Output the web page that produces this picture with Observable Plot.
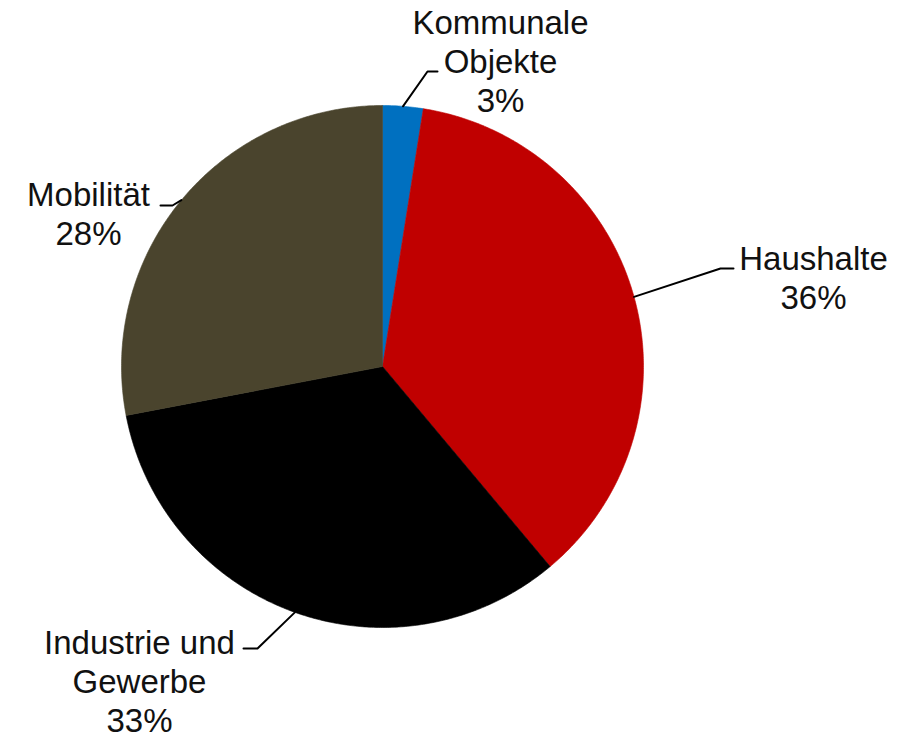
<!DOCTYPE html>
<html>
<head>
<meta charset="utf-8">
<script src="https://cdn.jsdelivr.net/npm/d3@7"></script>
<script src="https://cdn.jsdelivr.net/npm/@observablehq/plot@0.6"></script>
<style>
  html, body { margin: 0; padding: 0; background: #fff; }
  #chart svg { display: block; }
</style>
</head>
<body>
<div id="chart"></div>
<script>
// ---- data ----
const categories = ["Kommunale Objekte", "Haushalte", "Industrie und Gewerbe", "Mobilität"];
const labelNames = ["Kommunale\nObjekte", "Haushalte", "Industrie und\nGewerbe", "Mobilität"];
const shares = [2.5, 36.4, 33.1, 28.0];
const percentLabels = ["3%", "36%", "33%", "28%"];
const colors = ["#0070C0", "#C00000", "#000000", "#4A442D"];

// ---- layout (pixels) ----
const W = 907, H = 738, CX = 382, CY = 366, R = 261;
const FONT = 33, LINE_H = 39;
// leader elbow, leader end and text anchor (last baseline) per label
const labelLayout = [
  {elbow: [427, 71], end: [437, 71], text: [500, 111]},
  {elbow: [720, 268], end: [733, 268], text: [813, 308]},
  {elbow: [257, 648], end: [243, 648], text: [139, 731]},
  {elbow: [172, 205], end: [160, 205], text: [88, 244]}
];
const toU = ([px, py]) => [(px - CX) / R, (CY - py) / R];

// ---- pie geometry from data ----
const total = d3.sum(shares);
let acc = 0;
const slices = categories.map((name, i) => {
  const a0 = acc / total * 2 * Math.PI;
  acc += shares[i];
  const a1 = acc / total * 2 * Math.PI;
  return {name, i, a0, a1, mid: (a0 + a1) / 2};
});

const polyPts = [];
for (const s of slices) {
  polyPts.push({name: s.name, x: 0, y: 0});
  const steps = Math.max(2, Math.ceil((s.a1 - s.a0) / (Math.PI / 360)));
  for (let k = 0; k <= steps; ++k) {
    const a = s.a0 + (s.a1 - s.a0) * k / steps;
    polyPts.push({name: s.name, x: Math.sin(a), y: Math.cos(a)});
  }
  polyPts.push({name: s.name, x: 0, y: 0});
}

const leaderPts = [];
const textPts = [];
slices.forEach((s, i) => {
  const L = labelLayout[i];
  const [ex, ey] = toU(L.elbow), [nx, ny] = toU(L.end), [tx, ty] = toU(L.text);
  leaderPts.push({name: s.name, x: Math.sin(s.mid), y: Math.cos(s.mid)});
  leaderPts.push({name: s.name, x: ex, y: ey});
  leaderPts.push({name: s.name, x: nx, y: ny});
  textPts.push({name: s.name, x: tx, y: ty, label: labelNames[i] + "\n" + percentLabels[i]});
});

const chart = Plot.plot({
  width: W,
  height: H,
  margin: 0,
  x: {domain: [-CX / R, (W - CX) / R], range: [0, W], axis: null},
  y: {domain: [-(H - CY) / R, CY / R], range: [H, 0], axis: null},
  color: {domain: categories, range: colors},
  style: {fontFamily: "Liberation Sans, Arial, sans-serif", background: "#fff"},
  marks: [
    Plot.line(polyPts, {x: "x", y: "y", z: "name", fill: "name", stroke: "name", strokeWidth: 0.6, curve: "linear"}),
    Plot.line(leaderPts, {x: "x", y: "y", z: "name", stroke: "#000", strokeWidth: 2, curve: "linear"}),
    Plot.text(textPts, {
      x: "x", y: "y", text: "label",
      textAnchor: "middle", lineAnchor: "bottom",
      lineHeight: LINE_H / FONT, fontSize: FONT,
      fontFamily: "Liberation Sans, Arial, sans-serif",
      fill: "#111"
    })
  ]
});
document.getElementById("chart").appendChild(chart);
</script>
</body>
</html>
